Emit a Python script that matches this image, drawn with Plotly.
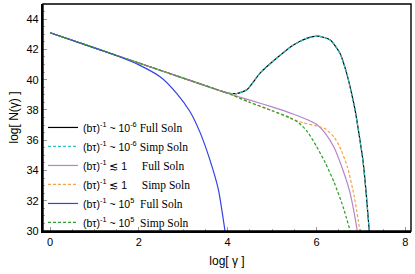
import plotly.graph_objects as go

# log(gamma) and log(N) readings for each curve
x_low = [0.0, 1.0, 2.0, 3.0, 3.83, 4.0, 4.2, 4.43, 4.73, 5.1, 5.48, 5.78, 6.04, 6.31, 6.53, 6.68, 6.79, 6.87, 6.98, 7.05, 7.12, 7.19]
y_low_full = [43.1, 42.1, 41.1, 40.1, 39.27, 39.12, 39.08, 39.33, 40.43, 41.41, 42.29, 42.73, 42.88, 42.62, 41.74, 40.43, 39.11, 38.0, 36.0, 34.6, 32.5, 30.0]
y_low_simp = [43.1, 42.1, 41.1, 40.1, 39.27, 39.12, 39.08, 39.33, 40.43, 41.41, 42.29, 42.73, 42.88, 42.62, 41.74, 40.43, 39.11, 38.0, 36.0, 34.6, 32.5, 30.0]

x_mid_full = [0.0, 1.0, 2.0, 3.0, 4.0, 4.5, 5.0, 5.5, 5.8, 6.0, 6.2, 6.4, 6.6, 6.75, 6.85, 6.92]
y_mid_full = [43.1, 42.1, 41.1, 40.1, 39.1, 38.65, 38.2, 37.7, 37.35, 37.05, 36.45, 35.5, 34.0, 32.6, 31.2, 30.0]

x_mid_simp = [0.0, 1.0, 2.0, 3.0, 4.0, 4.5, 5.0, 5.4, 5.7, 6.0, 6.2, 6.4, 6.55, 6.7, 6.85, 6.98]
y_mid_simp = [43.1, 42.1, 41.1, 40.1, 39.1, 38.5, 37.95, 37.45, 37.15, 36.95, 36.75, 36.2, 35.4, 34.2, 32.3, 30.0]

x_high_full = [0.0, 1.0, 1.5, 2.0, 2.5, 2.85, 3.15, 3.38, 3.6, 3.79, 3.94]
y_high_full = [43.1, 42.1, 41.58, 40.98, 40.15, 39.1, 37.9, 36.5, 34.7, 32.75, 30.0]

x_high_simp = [0.0, 1.0, 2.0, 3.0, 4.0, 4.5, 5.0, 5.4, 5.6, 5.8, 6.0, 6.2, 6.4, 6.6, 6.76]
y_high_simp = [43.1, 42.1, 41.1, 40.1, 39.1, 38.5, 37.95, 37.5, 37.15, 36.55, 35.6, 34.5, 33.2, 31.6, 30.0]

SERIF = "font-family:Liberation Serif;font-size:11.5px"
def lab(left, right):
    return left + '<span style="' + SERIF + '">' + right + '</span>'

names = [
    lab("(bτ)<sup>-1</sup> ~ 10<sup>-6</sup> ", "Full Soln"),
    lab("(bτ)<sup>-1</sup> ~ 10<sup>-6</sup> ", "Simp Soln"),
    lab("(bτ)<sup>-1</sup> ≲ 1\u00a0\u00a0\u00a0\u00a0\u00a0", "Full Soln"),
    lab("(bτ)<sup>-1</sup> ≲ 1\u00a0\u00a0\u00a0\u00a0\u00a0", "Simp Soln"),
    lab("(bτ)<sup>-1</sup> ~ 10<sup>5</sup>\u00a0\u00a0", "Full Soln"),
    lab("(bτ)<sup>-1</sup> ~ 10<sup>5</sup>\u00a0 ", "Simp Soln"),
]

series = [
    (x_low, y_low_full, "#000000", "solid"),
    (x_low, y_low_simp, "#33c6c6", "3px,2px"),
    (x_mid_full, y_mid_full, "#b783c9", "solid"),
    (x_mid_simp, y_mid_simp, "#f5a245", "3px,2px"),
    (x_high_full, y_high_full, "#3440e6", "solid"),
    (x_high_simp, y_high_simp, "#2f9e2f", "3px,2px"),
]

fig = go.Figure()
for (xs, ys, col, dash), nm in zip(series, names):
    fig.add_trace(go.Scatter(x=xs, y=ys, mode="lines", name=nm,
                             line=dict(color=col, width=1.2, dash=dash, shape="spline", smoothing=0.6)))

axis_common = dict(
    showgrid=False, zeroline=False, ticks="inside", ticklen=4, tickwidth=1,
    tickcolor="#999999", showline=True, linecolor="black", linewidth=2.2,
    tickfont=dict(family="Liberation Sans, Arial", size=11, color="black"),
    minor=dict(ticks="inside", ticklen=2, tickcolor="#aaaaaa", dtick=0.5),
)

fig.update_layout(
    width=415, height=274,
    margin=dict(l=43, r=4, t=4, b=43),
    paper_bgcolor="white", plot_bgcolor="white",
    showlegend=True,
    legend=dict(x=0.0, y=0.52, xanchor="left", yanchor="top",
                bgcolor="rgba(0,0,0,0)", itemwidth=30, tracegroupgap=0,
                font=dict(family="Liberation Sans, Arial", size=10.5, color="black")),
    xaxis=dict(range=[-0.16, 8.13], tickvals=[0, 2, 4, 6, 8],
               title=dict(text="log[ γ ]", font=dict(family="Liberation Sans, Arial", size=12, color="black"), standoff=9),
               **axis_common),
    yaxis=dict(range=[30, 45], tickvals=[30, 32, 34, 36, 38, 40, 42, 44],
               title=dict(text="log[ N(γ) ]", font=dict(family="Liberation Sans, Arial", size=12, color="black"), standoff=5),
               **axis_common),
    shapes=[dict(type="rect", xref="paper", yref="paper", x0=0, y0=0, x1=1, y1=1,
                 line=dict(color="black", width=1.4))],
)

fig.write_html("out.html", config={"displayModeBar": False},
               post_script="document.body.style.margin='0';")
